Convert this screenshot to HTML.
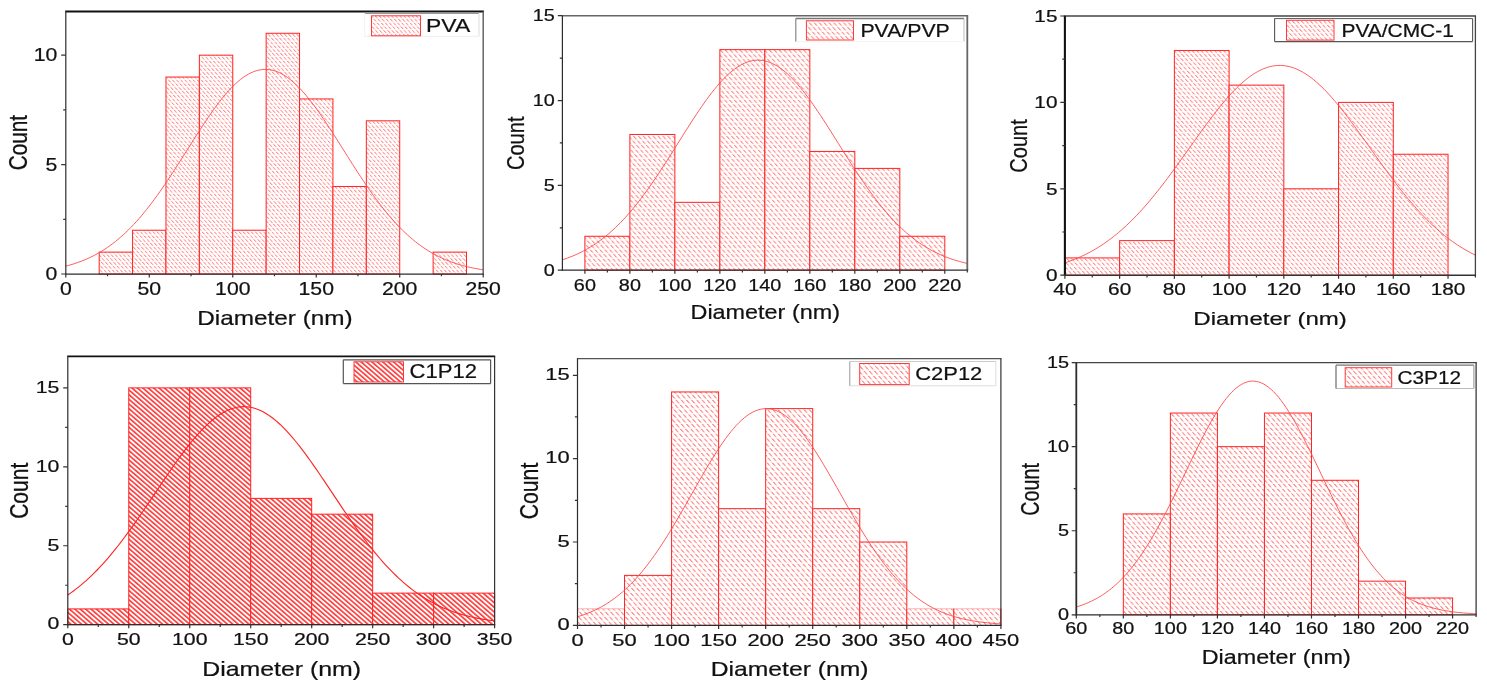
<!DOCTYPE html>
<html lang="en"><head><meta charset="utf-8"><title>Fiber diameter histograms</title>
<style>
html,body{margin:0;padding:0;background:#fff;}
body{width:1487px;height:687px;overflow:hidden;}
svg{display:block;filter:blur(0.45px);}
body{will-change:transform;transform:translateZ(0);}
text{font-family:"Liberation Sans",Arial,Helvetica,sans-serif;fill:#111;stroke:#111;stroke-width:0.22px;}
</style></head><body>
<svg width="1487" height="687" viewBox="0 0 1487 687">
<rect width="1487" height="687" fill="#ffffff"/>
<defs>
<pattern id="h1" patternUnits="userSpaceOnUse" width="4.1" height="3.8" patternTransform="skewX(41)"><rect width="4.1" height="3.8" fill="#ffffff"/><rect x="0" y="0" width="1.2" height="3.8" fill="#ffe8e8"/><rect x="0" y="0" width="1.2" height="2.43" fill="#ff8c8c"/></pattern>
<pattern id="h2" patternUnits="userSpaceOnUse" width="4.9" height="4.54" patternTransform="skewX(41)"><rect width="4.9" height="4.54" fill="#ffffff"/><rect x="0" y="0" width="1.43" height="4.54" fill="#ffe8e8"/><rect x="0" y="0" width="1.43" height="2.91" fill="#ff8c8c"/></pattern>
<pattern id="h3" patternUnits="userSpaceOnUse" width="4.5" height="4.17" patternTransform="skewX(41)"><rect width="4.5" height="4.17" fill="#ffffff"/><rect x="0" y="0" width="1.32" height="4.17" fill="#ffe8e8"/><rect x="0" y="0" width="1.32" height="2.67" fill="#ff8c8c"/></pattern>
<pattern id="h4" patternUnits="userSpaceOnUse" width="3.53" height="8" patternTransform="rotate(-49.2)"><rect width="3.53" height="8" fill="#ffffff"/><rect x="0" y="0" width="1.6" height="8" fill="#ff3535"/></pattern>
<pattern id="h5" patternUnits="userSpaceOnUse" width="5.2" height="4.82" patternTransform="skewX(41)"><rect width="5.2" height="4.82" fill="#ffffff"/><rect x="0" y="0" width="1.52" height="4.82" fill="#ffe8e8"/><rect x="0" y="0" width="1.52" height="3.08" fill="#ff8c8c"/></pattern>
<pattern id="h6" patternUnits="userSpaceOnUse" width="5.1" height="4.7" patternTransform="skewX(41)"><rect width="5.1" height="4.7" fill="#ffffff"/><rect x="0" y="0" width="1.5" height="4.7" fill="#ffe8e8"/><rect x="0" y="0" width="1.5" height="3.01" fill="#ff8c8c"/></pattern>
</defs>
<g id="plot1">
<rect x="99.19" y="252.12" width="33.39" height="21.88" fill="url(#h1)" stroke="#ff2222" stroke-width="1.0"/>
<rect x="132.58" y="230.23" width="33.39" height="43.77" fill="url(#h1)" stroke="#ff2222" stroke-width="1.0"/>
<rect x="165.98" y="77.05" width="33.39" height="196.95" fill="url(#h1)" stroke="#ff2222" stroke-width="1.0"/>
<rect x="199.37" y="55.17" width="33.39" height="218.83" fill="url(#h1)" stroke="#ff2222" stroke-width="1.0"/>
<rect x="232.76" y="230.23" width="33.39" height="43.77" fill="url(#h1)" stroke="#ff2222" stroke-width="1.0"/>
<rect x="266.15" y="33.28" width="33.39" height="240.72" fill="url(#h1)" stroke="#ff2222" stroke-width="1.0"/>
<rect x="299.54" y="98.93" width="33.39" height="175.07" fill="url(#h1)" stroke="#ff2222" stroke-width="1.0"/>
<rect x="332.94" y="186.47" width="33.39" height="87.53" fill="url(#h1)" stroke="#ff2222" stroke-width="1.0"/>
<rect x="366.33" y="120.82" width="33.39" height="153.18" fill="url(#h1)" stroke="#ff2222" stroke-width="1.0"/>
<rect x="433.11" y="252.12" width="33.39" height="21.88" fill="url(#h1)" stroke="#ff2222" stroke-width="1.0"/>
<polyline points="65.8,266.15 68.41,265.45 71.02,264.71 73.63,263.91 76.23,263.05 78.84,262.14 81.45,261.16 84.06,260.12 86.67,259.01 89.28,257.83 91.89,256.58 94.5,255.25 97.1,253.84 99.71,252.35 102.32,250.77 104.93,249.11 107.54,247.36 110.15,245.52 112.76,243.58 115.37,241.55 117.97,239.42 120.58,237.2 123.19,234.87 125.8,232.44 128.41,229.92 131.02,227.29 133.63,224.55 136.24,221.72 138.84,218.79 141.45,215.75 144.06,212.62 146.67,209.4 149.28,206.07 151.89,202.66 154.5,199.16 157.11,195.57 159.71,191.91 162.32,188.17 164.93,184.36 167.54,180.48 170.15,176.54 172.76,172.56 175.37,168.52 177.98,164.45 180.58,160.35 183.19,156.22 185.8,152.09 188.41,147.94 191.02,143.8 193.63,139.68 196.24,135.58 198.85,131.51 201.45,127.49 204.06,123.52 206.67,119.61 209.28,115.79 211.89,112.04 214.5,108.39 217.11,104.85 219.72,101.43 222.32,98.13 224.93,94.97 227.54,91.96 230.15,89.1 232.76,86.4 235.37,83.88 237.98,81.54 240.59,79.39 243.19,77.43 245.8,75.67 248.41,74.12 251.02,72.79 253.63,71.67 256.24,70.77 258.85,70.09 261.46,69.64 264.06,69.42 266.67,69.42 269.28,69.65 271.89,70.11 274.5,70.8 277.11,71.71 279.72,72.84 282.33,74.18 284.94,75.74 287.54,77.5 290.15,79.47 292.76,81.63 295.37,83.98 297.98,86.51 300.59,89.21 303.2,92.07 305.81,95.09 308.41,98.26 311.02,101.56 313.63,104.99 316.24,108.54 318.85,112.19 321.46,115.94 324.07,119.77 326.68,123.68 329.28,127.65 331.89,131.67 334.5,135.74 337.11,139.84 339.72,143.97 342.33,148.11 344.94,152.25 347.55,156.39 350.15,160.51 352.76,164.61 355.37,168.68 357.98,172.72 360.59,176.7 363.2,180.64 365.81,184.51 368.42,188.32 371.02,192.06 373.63,195.72 376.24,199.3 378.85,202.8 381.46,206.21 384.07,209.53 386.68,212.75 389.29,215.88 391.89,218.91 394.5,221.84 397.11,224.67 399.72,227.39 402.33,230.02 404.94,232.54 407.55,234.97 410.16,237.29 412.76,239.51 415.37,241.63 417.98,243.66 420.59,245.59 423.2,247.43 425.81,249.18 428.42,250.84 431.02,252.41 433.63,253.89 436.24,255.3 438.85,256.63 441.46,257.88 444.07,259.05 446.68,260.16 449.29,261.2 451.89,262.17 454.5,263.09 457.11,263.94 459.72,264.74 462.33,265.48 464.94,266.17 467.55,266.82 470.16,267.41 472.76,267.97 475.37,268.48 477.98,268.96 480.59,269.4 483.2,269.81" fill="none" stroke="#ff4a4a" stroke-width="0.9"/>
<line x1="65.2" y1="11.4" x2="483.95" y2="11.4" stroke="#111" stroke-width="2.0"/>
<line x1="483.2" y1="11.4" x2="483.2" y2="274" stroke="#666" stroke-width="1.5"/>
<line x1="65.8" y1="11.4" x2="65.8" y2="274.62" stroke="#2c2c2c" stroke-width="1.2"/>
<line x1="65.2" y1="274" x2="483.95" y2="274" stroke="#2c2c2c" stroke-width="1.25"/>
<path d="M65.8 274v3.6M149.28 274v3.6M232.76 274v3.6M316.24 274v3.6M399.72 274v3.6M483.2 274v3.6M107.54 274v2.2M191.02 274v2.2M274.5 274v2.2M357.98 274v2.2M441.46 274v2.2M65.8 274h-4.6M65.8 164.58h-4.6M65.8 55.17h-4.6M65.8 219.29h-2.6M65.8 109.87h-2.6" stroke="#333" stroke-width="1.2" fill="none"/>
<text transform="translate(65.8,295.2) scale(1.205,1)" text-anchor="middle" font-size="17.6">0</text>
<text transform="translate(149.28,295.2) scale(1.205,1)" text-anchor="middle" font-size="17.6">50</text>
<text transform="translate(232.76,295.2) scale(1.205,1)" text-anchor="middle" font-size="17.6">100</text>
<text transform="translate(316.24,295.2) scale(1.205,1)" text-anchor="middle" font-size="17.6">150</text>
<text transform="translate(399.72,295.2) scale(1.205,1)" text-anchor="middle" font-size="17.6">200</text>
<text transform="translate(483.2,295.2) scale(1.205,1)" text-anchor="middle" font-size="17.6">250</text>
<text transform="translate(57.4,280.3) scale(1.205,1)" text-anchor="end" font-size="17.6">0</text>
<text transform="translate(57.4,170.88) scale(1.205,1)" text-anchor="end" font-size="17.6">5</text>
<text transform="translate(57.4,61.47) scale(1.205,1)" text-anchor="end" font-size="17.6">10</text>
<text x="197.2" y="324.9" font-size="20.4" textLength="155.5" lengthAdjust="spacingAndGlyphs">Diameter (nm)</text>
<text transform="translate(26.6,142.6) scale(1.22,1) rotate(-90)" text-anchor="middle" font-size="20.8">Count</text>
<rect x="364.7" y="13.2" width="114.3" height="23.1" fill="#fff"/>
<line x1="364.7" y1="13.2" x2="479" y2="13.2" stroke="#999" stroke-width="1.4"/>
<line x1="479" y1="13.2" x2="479" y2="36.3" stroke="#ddd" stroke-width="1"/>
<line x1="364.7" y1="36.3" x2="479" y2="36.3" stroke="#eee" stroke-width="1"/>
<line x1="364.7" y1="13.2" x2="364.7" y2="36.3" stroke="#f2f2f2" stroke-width="1"/>
<rect x="371.5" y="15.8" width="49" height="20" fill="url(#h1)" stroke="#ff3a3a" stroke-width="1.0"/>
<text x="426.1" y="32" font-size="18.4" textLength="44.1" lengthAdjust="spacingAndGlyphs">PVA</text>
</g>
<g id="plot2">
<rect x="584.89" y="236.27" width="44.99" height="33.93" fill="url(#h2)" stroke="#ff2222" stroke-width="1.0"/>
<rect x="629.88" y="134.47" width="44.99" height="135.73" fill="url(#h2)" stroke="#ff2222" stroke-width="1.0"/>
<rect x="674.87" y="202.33" width="44.99" height="67.87" fill="url(#h2)" stroke="#ff2222" stroke-width="1.0"/>
<rect x="719.86" y="49.63" width="44.99" height="220.57" fill="url(#h2)" stroke="#ff2222" stroke-width="1.0"/>
<rect x="764.85" y="49.63" width="44.99" height="220.57" fill="url(#h2)" stroke="#ff2222" stroke-width="1.0"/>
<rect x="809.84" y="151.43" width="44.99" height="118.77" fill="url(#h2)" stroke="#ff2222" stroke-width="1.0"/>
<rect x="854.83" y="168.4" width="44.99" height="101.8" fill="url(#h2)" stroke="#ff2222" stroke-width="1.0"/>
<rect x="899.82" y="236.27" width="44.99" height="33.93" fill="url(#h2)" stroke="#ff2222" stroke-width="1.0"/>
<polyline points="562.4,259.77 564.93,258.94 567.46,258.05 569.99,257.1 572.52,256.09 575.05,255.02 577.58,253.88 580.11,252.68 582.64,251.41 585.18,250.06 587.71,248.64 590.24,247.14 592.77,245.57 595.3,243.91 597.83,242.17 600.36,240.35 602.89,238.43 605.42,236.43 607.95,234.34 610.48,232.16 613.01,229.88 615.54,227.52 618.07,225.05 620.6,222.5 623.13,219.85 625.67,217.1 628.2,214.27 630.73,211.34 633.26,208.32 635.79,205.21 638.32,202.01 640.85,198.72 643.38,195.36 645.91,191.91 648.44,188.39 650.97,184.79 653.5,181.13 656.03,177.4 658.56,173.61 661.09,169.77 663.62,165.88 666.16,161.95 668.69,157.98 671.22,153.99 673.75,149.97 676.28,145.94 678.81,141.9 681.34,137.87 683.87,133.84 686.4,129.84 688.93,125.86 691.46,121.92 693.99,118.02 696.52,114.18 699.05,110.4 701.58,106.69 704.12,103.06 706.65,99.53 709.18,96.1 711.71,92.77 714.24,89.57 716.77,86.49 719.3,83.54 721.83,80.74 724.36,78.09 726.89,75.6 729.42,73.27 731.95,71.12 734.48,69.14 737.01,67.35 739.54,65.75 742.07,64.34 744.61,63.13 747.14,62.12 749.67,61.32 752.2,60.73 754.73,60.34 757.26,60.16 759.79,60.2 762.32,60.45 764.85,60.9 767.38,61.57 769.91,62.44 772.44,63.51 774.97,64.79 777.5,66.26 780.03,67.93 782.56,69.78 785.1,71.82 787.63,74.03 790.16,76.41 792.69,78.96 795.22,81.66 797.75,84.51 800.28,87.5 802.81,90.62 805.34,93.87 807.87,97.23 810.4,100.7 812.93,104.26 815.46,107.92 817.99,111.65 820.52,115.45 823.05,119.31 825.59,123.23 828.12,127.18 830.65,131.17 833.18,135.18 835.71,139.21 838.24,143.25 840.77,147.28 843.3,151.31 845.83,155.32 848.36,159.31 850.89,163.26 853.42,167.18 855.95,171.05 858.48,174.88 861.01,178.65 863.54,182.35 866.08,186 868.61,189.57 871.14,193.07 873.67,196.49 876.2,199.83 878.73,203.08 881.26,206.25 883.79,209.33 886.32,212.32 888.85,215.22 891.38,218.03 893.91,220.74 896.44,223.36 898.97,225.88 901.5,228.31 904.03,230.65 906.56,232.9 909.1,235.05 911.63,237.11 914.16,239.08 916.69,240.96 919.22,242.76 921.75,244.47 924.28,246.1 926.81,247.65 929.34,249.12 931.87,250.52 934.4,251.84 936.93,253.09 939.46,254.27 941.99,255.38 944.52,256.43 947.05,257.42 949.59,258.35 952.12,259.22 954.65,260.04 957.18,260.81 959.71,261.53 962.24,262.2 964.77,262.82 967.3,263.41" fill="none" stroke="#ff4a4a" stroke-width="0.9"/>
<line x1="561.8" y1="15.7" x2="968.2" y2="15.7" stroke="#666" stroke-width="1.5"/>
<line x1="967.3" y1="15.7" x2="967.3" y2="270.2" stroke="#666" stroke-width="1.8"/>
<line x1="562.4" y1="15.7" x2="562.4" y2="270.82" stroke="#2c2c2c" stroke-width="1.2"/>
<line x1="561.8" y1="270.2" x2="968.2" y2="270.2" stroke="#2c2c2c" stroke-width="1.25"/>
<path d="M584.89 270.2v3.6M629.88 270.2v3.6M674.87 270.2v3.6M719.86 270.2v3.6M764.85 270.2v3.6M809.84 270.2v3.6M854.83 270.2v3.6M899.82 270.2v3.6M944.81 270.2v3.6M607.39 270.2v2.2M652.38 270.2v2.2M697.37 270.2v2.2M742.36 270.2v2.2M787.34 270.2v2.2M832.33 270.2v2.2M877.32 270.2v2.2M922.31 270.2v2.2M967.3 270.2v2.2M562.4 270.2h-4.6M562.4 185.37h-4.6M562.4 100.53h-4.6M562.4 15.7h-4.6M562.4 227.78h-2.6M562.4 142.95h-2.6M562.4 58.12h-2.6" stroke="#333" stroke-width="1.2" fill="none"/>
<text transform="translate(584.89,290.9) scale(1.24,1)" text-anchor="middle" font-size="16.0">60</text>
<text transform="translate(629.88,290.9) scale(1.24,1)" text-anchor="middle" font-size="16.0">80</text>
<text transform="translate(674.87,290.9) scale(1.24,1)" text-anchor="middle" font-size="16.0">100</text>
<text transform="translate(719.86,290.9) scale(1.24,1)" text-anchor="middle" font-size="16.0">120</text>
<text transform="translate(764.85,290.9) scale(1.24,1)" text-anchor="middle" font-size="16.0">140</text>
<text transform="translate(809.84,290.9) scale(1.24,1)" text-anchor="middle" font-size="16.0">160</text>
<text transform="translate(854.83,290.9) scale(1.24,1)" text-anchor="middle" font-size="16.0">180</text>
<text transform="translate(899.82,290.9) scale(1.24,1)" text-anchor="middle" font-size="16.0">200</text>
<text transform="translate(944.81,290.9) scale(1.24,1)" text-anchor="middle" font-size="16.0">220</text>
<text transform="translate(554.8,275.93) scale(1.24,1)" text-anchor="end" font-size="16.0">0</text>
<text transform="translate(554.8,191.09) scale(1.24,1)" text-anchor="end" font-size="16.0">5</text>
<text transform="translate(554.8,106.26) scale(1.24,1)" text-anchor="end" font-size="16.0">10</text>
<text transform="translate(554.8,21.43) scale(1.24,1)" text-anchor="end" font-size="16.0">15</text>
<text x="690.5" y="319.3" font-size="20.1" textLength="149.5" lengthAdjust="spacingAndGlyphs">Diameter (nm)</text>
<text transform="translate(524.4,143.3) scale(1.15,1) rotate(-90)" text-anchor="middle" font-size="20.1">Count</text>
<rect x="795.8" y="18.5" width="168.2" height="23.1" fill="#fff"/>
<line x1="795.8" y1="18.5" x2="964" y2="18.5" stroke="#777" stroke-width="1.3"/>
<line x1="964" y1="18.5" x2="964" y2="41.6" stroke="#bbb" stroke-width="1"/>
<line x1="795.8" y1="41.6" x2="964" y2="41.6" stroke="#f4f4f4" stroke-width="1"/>
<line x1="795.8" y1="18.5" x2="795.8" y2="41.6" stroke="#888" stroke-width="1.2"/>
<rect x="806.4" y="20.8" width="47.1" height="19.2" fill="url(#h2)" stroke="#ff3a3a" stroke-width="1.0"/>
<text x="860.4" y="36.9" font-size="18.0" textLength="89.4" lengthAdjust="spacingAndGlyphs">PVA/PVP</text>
</g>
<g id="plot3">
<rect x="1064.9" y="257.92" width="54.73" height="17.28" fill="url(#h3)" stroke="#ff2222" stroke-width="1.0"/>
<rect x="1119.63" y="240.64" width="54.73" height="34.56" fill="url(#h3)" stroke="#ff2222" stroke-width="1.0"/>
<rect x="1174.37" y="50.56" width="54.73" height="224.64" fill="url(#h3)" stroke="#ff2222" stroke-width="1.0"/>
<rect x="1229.1" y="85.12" width="54.73" height="190.08" fill="url(#h3)" stroke="#ff2222" stroke-width="1.0"/>
<rect x="1283.83" y="188.8" width="54.73" height="86.4" fill="url(#h3)" stroke="#ff2222" stroke-width="1.0"/>
<rect x="1338.57" y="102.4" width="54.73" height="172.8" fill="url(#h3)" stroke="#ff2222" stroke-width="1.0"/>
<rect x="1393.3" y="154.24" width="54.73" height="120.96" fill="url(#h3)" stroke="#ff2222" stroke-width="1.0"/>
<polyline points="1064.9,262.81 1067.47,261.95 1070.03,261.04 1072.6,260.08 1075.16,259.07 1077.73,258.01 1080.29,256.89 1082.86,255.71 1085.43,254.47 1087.99,253.17 1090.56,251.81 1093.12,250.39 1095.69,248.9 1098.25,247.34 1100.82,245.72 1103.38,244.02 1105.95,242.26 1108.52,240.42 1111.08,238.51 1113.65,236.53 1116.21,234.47 1118.78,232.34 1121.34,230.13 1123.91,227.85 1126.48,225.49 1129.04,223.06 1131.61,220.55 1134.17,217.96 1136.74,215.31 1139.3,212.58 1141.87,209.77 1144.43,206.9 1147,203.96 1149.57,200.95 1152.13,197.88 1154.7,194.75 1157.26,191.55 1159.83,188.3 1162.39,185 1164.96,181.65 1167.53,178.25 1170.09,174.8 1172.66,171.32 1175.22,167.81 1177.79,164.26 1180.35,160.69 1182.92,157.1 1185.48,153.5 1188.05,149.89 1190.62,146.28 1193.18,142.66 1195.75,139.06 1198.31,135.47 1200.88,131.91 1203.44,128.37 1206.01,124.86 1208.58,121.4 1211.14,117.98 1213.71,114.61 1216.27,111.31 1218.84,108.07 1221.4,104.91 1223.97,101.83 1226.53,98.83 1229.1,95.93 1231.67,93.12 1234.23,90.42 1236.8,87.83 1239.36,85.36 1241.93,83.01 1244.49,80.79 1247.06,78.71 1249.62,76.76 1252.19,74.95 1254.76,73.29 1257.32,71.78 1259.89,70.42 1262.45,69.22 1265.02,68.19 1267.58,67.31 1270.15,66.6 1272.72,66.05 1275.28,65.67 1277.85,65.47 1280.41,65.43 1282.98,65.56 1285.54,65.86 1288.11,66.32 1290.68,66.96 1293.24,67.76 1295.81,68.72 1298.37,69.84 1300.94,71.13 1303.5,72.57 1306.07,74.16 1308.63,75.9 1311.2,77.78 1313.77,79.8 1316.33,81.96 1318.9,84.25 1321.46,86.67 1324.03,89.2 1326.59,91.85 1329.16,94.6 1331.73,97.46 1334.29,100.42 1336.86,103.46 1339.42,106.59 1341.99,109.79 1344.55,113.06 1347.12,116.4 1349.68,119.79 1352.25,123.24 1354.82,126.73 1357.38,130.25 1359.95,133.81 1362.51,137.38 1365.08,140.98 1367.64,144.59 1370.21,148.2 1372.78,151.82 1375.34,155.42 1377.91,159.02 1380.47,162.6 1383.04,166.16 1385.6,169.68 1388.17,173.18 1390.73,176.64 1393.3,180.06 1395.87,183.44 1398.43,186.77 1401,190.04 1403.56,193.26 1406.13,196.43 1408.69,199.53 1411.26,202.56 1413.83,205.54 1416.39,208.44 1418.96,211.28 1421.52,214.04 1424.09,216.73 1426.65,219.35 1429.22,221.89 1431.78,224.36 1434.35,226.76 1436.92,229.08 1439.48,231.32 1442.05,233.49 1444.61,235.58 1447.18,237.6 1449.74,239.54 1452.31,241.41 1454.88,243.21 1457.44,244.94 1460.01,246.59 1462.57,248.18 1465.14,249.7 1467.7,251.16 1470.27,252.55 1472.83,253.87 1475.4,255.14" fill="none" stroke="#ff4a4a" stroke-width="0.9"/>
<line x1="1063.85" y1="16" x2="1476.05" y2="16" stroke="#444" stroke-width="1.6"/>
<line x1="1475.4" y1="16" x2="1475.4" y2="275.2" stroke="#444" stroke-width="1.3"/>
<line x1="1064.9" y1="16" x2="1064.9" y2="275.9" stroke="#111" stroke-width="2.1"/>
<line x1="1063.85" y1="275.2" x2="1476.05" y2="275.2" stroke="#333" stroke-width="1.4"/>
<path d="M1064.9 275.2v3.6M1119.63 275.2v3.6M1174.37 275.2v3.6M1229.1 275.2v3.6M1283.83 275.2v3.6M1338.57 275.2v3.6M1393.3 275.2v3.6M1448.03 275.2v3.6M1092.27 275.2v2.2M1147 275.2v2.2M1201.73 275.2v2.2M1256.47 275.2v2.2M1311.2 275.2v2.2M1365.93 275.2v2.2M1420.67 275.2v2.2M1475.4 275.2v2.2M1064.9 275.2h-4.6M1064.9 188.8h-4.6M1064.9 102.4h-4.6M1064.9 16h-4.6M1064.9 232h-2.6M1064.9 145.6h-2.6M1064.9 59.2h-2.6" stroke="#333" stroke-width="1.2" fill="none"/>
<text transform="translate(1064.9,294.9) scale(1.3,1)" text-anchor="middle" font-size="16.0">40</text>
<text transform="translate(1119.63,294.9) scale(1.3,1)" text-anchor="middle" font-size="16.0">60</text>
<text transform="translate(1174.37,294.9) scale(1.3,1)" text-anchor="middle" font-size="16.0">80</text>
<text transform="translate(1229.1,294.9) scale(1.3,1)" text-anchor="middle" font-size="16.0">100</text>
<text transform="translate(1283.83,294.9) scale(1.3,1)" text-anchor="middle" font-size="16.0">120</text>
<text transform="translate(1338.57,294.9) scale(1.3,1)" text-anchor="middle" font-size="16.0">140</text>
<text transform="translate(1393.3,294.9) scale(1.3,1)" text-anchor="middle" font-size="16.0">160</text>
<text transform="translate(1448.03,294.9) scale(1.3,1)" text-anchor="middle" font-size="16.0">180</text>
<text transform="translate(1057.5,280.93) scale(1.3,1)" text-anchor="end" font-size="16.0">0</text>
<text transform="translate(1057.5,194.53) scale(1.3,1)" text-anchor="end" font-size="16.0">5</text>
<text transform="translate(1057.5,108.13) scale(1.3,1)" text-anchor="end" font-size="16.0">10</text>
<text transform="translate(1057.5,21.73) scale(1.3,1)" text-anchor="end" font-size="16.0">15</text>
<text x="1193.3" y="325.2" font-size="18.7" textLength="153.6" lengthAdjust="spacingAndGlyphs">Diameter (nm)</text>
<text transform="translate(1027,146) scale(1.22,1) rotate(-90)" text-anchor="middle" font-size="20.05">Count</text>
<rect x="1274.6" y="18.6" width="198" height="23" fill="#fff"/>
<line x1="1274.6" y1="18.6" x2="1472.6" y2="18.6" stroke="#555" stroke-width="1"/>
<line x1="1472.6" y1="18.6" x2="1472.6" y2="41.6" stroke="#555" stroke-width="1.1"/>
<line x1="1274.6" y1="41.6" x2="1472.6" y2="41.6" stroke="#555" stroke-width="1.1"/>
<line x1="1274.6" y1="18.6" x2="1274.6" y2="41.6" stroke="#555" stroke-width="1.1"/>
<rect x="1286.5" y="20.3" width="47.5" height="19.8" fill="url(#h3)" stroke="#ff3a3a" stroke-width="1.0"/>
<text x="1341.5" y="36.6" font-size="18.2" textLength="112.3" lengthAdjust="spacingAndGlyphs">PVA/CMC-1</text>
</g>
<g id="plot4">
<rect x="67.8" y="608.91" width="60.97" height="15.79" fill="url(#h4)" stroke="#ff2222" stroke-width="1.0"/>
<rect x="128.77" y="387.88" width="60.97" height="236.82" fill="url(#h4)" stroke="#ff2222" stroke-width="1.0"/>
<rect x="189.74" y="387.88" width="60.97" height="236.82" fill="url(#h4)" stroke="#ff2222" stroke-width="1.0"/>
<rect x="250.71" y="498.39" width="60.97" height="126.31" fill="url(#h4)" stroke="#ff2222" stroke-width="1.0"/>
<rect x="311.69" y="514.18" width="60.97" height="110.52" fill="url(#h4)" stroke="#ff2222" stroke-width="1.0"/>
<rect x="372.66" y="593.12" width="60.97" height="31.58" fill="url(#h4)" stroke="#ff2222" stroke-width="1.0"/>
<rect x="433.63" y="593.12" width="60.97" height="31.58" fill="url(#h4)" stroke="#ff2222" stroke-width="1.0"/>
<polyline points="67.8,594.95 70.47,593.11 73.13,591.19 75.8,589.18 78.47,587.09 81.14,584.92 83.81,582.65 86.47,580.3 89.14,577.86 91.81,575.33 94.47,572.71 97.14,570 99.81,567.21 102.48,564.32 105.15,561.35 107.81,558.3 110.48,555.16 113.15,551.93 115.81,548.63 118.48,545.26 121.15,541.8 123.82,538.28 126.48,534.69 129.15,531.04 131.82,527.32 134.49,523.56 137.16,519.74 139.82,515.88 142.49,511.98 145.16,508.05 147.82,504.09 150.49,500.11 153.16,496.11 155.83,492.11 158.5,488.11 161.16,484.12 163.83,480.14 166.5,476.19 169.17,472.27 171.83,468.39 174.5,464.56 177.17,460.78 179.84,457.07 182.5,453.43 185.17,449.87 187.84,446.4 190.5,443.03 193.17,439.76 195.84,436.61 198.51,433.58 201.18,430.68 203.84,427.91 206.51,425.29 209.18,422.81 211.85,420.5 214.51,418.34 217.18,416.35 219.85,414.54 222.51,412.91 225.18,411.45 227.85,410.19 230.52,409.11 233.19,408.23 235.85,407.54 238.52,407.05 241.19,406.76 243.86,406.66 246.52,406.77 249.19,407.08 251.86,407.58 254.53,408.28 257.19,409.18 259.86,410.27 262.53,411.55 265.19,413.01 267.86,414.66 270.53,416.48 273.2,418.48 275.87,420.65 278.53,422.98 281.2,425.46 283.87,428.09 286.54,430.87 289.2,433.78 291.87,436.82 294.54,439.98 297.21,443.26 299.87,446.63 302.54,450.11 305.21,453.68 307.88,457.32 310.54,461.04 313.21,464.82 315.88,468.66 318.55,472.54 321.21,476.46 323.88,480.42 326.55,484.39 329.22,488.39 331.88,492.39 334.55,496.39 337.22,500.38 339.89,504.36 342.55,508.32 345.22,512.25 347.89,516.14 350.56,520 353.22,523.82 355.89,527.58 358.56,531.29 361.23,534.94 363.89,538.52 366.56,542.04 369.23,545.49 371.9,548.86 374.56,552.16 377.23,555.37 379.9,558.51 382.57,561.56 385.23,564.52 387.9,567.4 390.57,570.19 393.24,572.89 395.9,575.51 398.57,578.03 401.24,580.46 403.91,582.81 406.57,585.07 409.24,587.24 411.91,589.32 414.58,591.32 417.24,593.24 419.91,595.07 422.58,596.82 425.25,598.49 427.91,600.09 430.58,601.6 433.25,603.05 435.92,604.42 438.58,605.72 441.25,606.96 443.92,608.13 446.59,609.24 449.25,610.28 451.92,611.27 454.59,612.2 457.26,613.08 459.92,613.9 462.59,614.68 465.26,615.41 467.93,616.09 470.59,616.74 473.26,617.33 475.93,617.9 478.6,618.42 481.26,618.91 483.93,619.36 486.6,619.79 489.27,620.18 491.93,620.55 494.6,620.89" fill="none" stroke="#ff2222" stroke-width="1.1"/>
<line x1="67.2" y1="356.3" x2="495.2" y2="356.3" stroke="#111" stroke-width="1.8"/>
<line x1="494.6" y1="356.3" x2="494.6" y2="624.7" stroke="#333" stroke-width="1.2"/>
<line x1="67.8" y1="356.3" x2="67.8" y2="625.33" stroke="#2c2c2c" stroke-width="1.2"/>
<line x1="67.2" y1="624.7" x2="495.2" y2="624.7" stroke="#2c2c2c" stroke-width="1.25"/>
<path d="M67.8 624.7v3.6M128.77 624.7v3.6M189.74 624.7v3.6M250.71 624.7v3.6M311.69 624.7v3.6M372.66 624.7v3.6M433.63 624.7v3.6M494.6 624.7v3.6M98.29 624.7v2.2M159.26 624.7v2.2M220.23 624.7v2.2M281.2 624.7v2.2M342.17 624.7v2.2M403.14 624.7v2.2M464.11 624.7v2.2M67.8 624.7h-4.6M67.8 545.76h-4.6M67.8 466.82h-4.6M67.8 387.88h-4.6M67.8 585.23h-2.6M67.8 506.29h-2.6M67.8 427.35h-2.6" stroke="#333" stroke-width="1.2" fill="none"/>
<text transform="translate(67.8,645.4) scale(1.26,1)" text-anchor="middle" font-size="16.9">0</text>
<text transform="translate(128.77,645.4) scale(1.26,1)" text-anchor="middle" font-size="16.9">50</text>
<text transform="translate(189.74,645.4) scale(1.26,1)" text-anchor="middle" font-size="16.9">100</text>
<text transform="translate(250.71,645.4) scale(1.26,1)" text-anchor="middle" font-size="16.9">150</text>
<text transform="translate(311.69,645.4) scale(1.26,1)" text-anchor="middle" font-size="16.9">200</text>
<text transform="translate(372.66,645.4) scale(1.26,1)" text-anchor="middle" font-size="16.9">250</text>
<text transform="translate(433.63,645.4) scale(1.26,1)" text-anchor="middle" font-size="16.9">300</text>
<text transform="translate(494.6,645.4) scale(1.26,1)" text-anchor="middle" font-size="16.9">350</text>
<text transform="translate(59.4,629.45) scale(1.26,1)" text-anchor="end" font-size="16.9">0</text>
<text transform="translate(59.4,550.51) scale(1.26,1)" text-anchor="end" font-size="16.9">5</text>
<text transform="translate(59.4,471.57) scale(1.26,1)" text-anchor="end" font-size="16.9">10</text>
<text transform="translate(59.4,392.63) scale(1.26,1)" text-anchor="end" font-size="16.9">15</text>
<text x="202.2" y="676.2" font-size="19.8" textLength="158.9" lengthAdjust="spacingAndGlyphs">Diameter (nm)</text>
<text transform="translate(28.3,490.8) scale(1.2,1) rotate(-90)" text-anchor="middle" font-size="21">Count</text>
<rect x="343.3" y="359.8" width="147.3" height="23.8" fill="#fff"/>
<line x1="343.3" y1="359.8" x2="490.6" y2="359.8" stroke="#555" stroke-width="1.2"/>
<line x1="490.6" y1="359.8" x2="490.6" y2="383.6" stroke="#555" stroke-width="1.2"/>
<line x1="343.3" y1="383.6" x2="490.6" y2="383.6" stroke="#555" stroke-width="1.2"/>
<line x1="343.3" y1="359.8" x2="343.3" y2="383.6" stroke="#555" stroke-width="1.2"/>
<rect x="354" y="361.8" width="49.5" height="20.2" fill="url(#h4)" stroke="#ff3a3a" stroke-width="1.0"/>
<text x="409.6" y="378.1" font-size="20.4" textLength="67.3" lengthAdjust="spacingAndGlyphs">C1P12</text>
</g>
<g id="plot5">
<rect x="577.5" y="608.73" width="47.04" height="16.67" fill="url(#h5)"/>
<path d="M577.5 608.73H624.54" stroke="#ffb4b4" stroke-width="1.2" fill="none"/>
<path d="M577.5 625.4V608.73M624.54 608.73V625.4" stroke="#ff2222" stroke-width="1.0" fill="none"/>
<rect x="624.54" y="575.38" width="47.04" height="50.02" fill="url(#h5)" stroke="#ff2222" stroke-width="1.0"/>
<rect x="671.59" y="391.95" width="47.04" height="233.45" fill="url(#h5)" stroke="#ff2222" stroke-width="1.0"/>
<rect x="718.63" y="508.68" width="47.04" height="116.72" fill="url(#h5)" stroke="#ff2222" stroke-width="1.0"/>
<rect x="765.68" y="408.62" width="47.04" height="216.77" fill="url(#h5)" stroke="#ff2222" stroke-width="1.0"/>
<rect x="812.72" y="508.68" width="47.04" height="116.72" fill="url(#h5)" stroke="#ff2222" stroke-width="1.0"/>
<rect x="859.77" y="542.02" width="47.04" height="83.38" fill="url(#h5)" stroke="#ff2222" stroke-width="1.0"/>
<rect x="906.81" y="608.73" width="47.04" height="16.67" fill="url(#h5)"/>
<path d="M906.81 608.73H953.86" stroke="#ffb4b4" stroke-width="1.2" fill="none"/>
<path d="M906.81 625.4V608.73M953.86 608.73V625.4" stroke="#ff2222" stroke-width="1.0" fill="none"/>
<rect x="953.86" y="608.73" width="47.04" height="16.67" fill="url(#h5)"/>
<path d="M953.86 608.73H1000.9" stroke="#ffb4b4" stroke-width="1.2" fill="none"/>
<path d="M953.86 625.4V608.73M1000.9 608.73V625.4" stroke="#ff2222" stroke-width="1.0" fill="none"/>
<polyline points="577.5,616.74 580.15,615.93 582.79,615.06 585.44,614.11 588.09,613.1 590.73,612.02 593.38,610.85 596.02,609.61 598.67,608.28 601.32,606.86 603.96,605.35 606.61,603.74 609.25,602.04 611.9,600.23 614.55,598.32 617.19,596.29 619.84,594.16 622.49,591.92 625.13,589.55 627.78,587.07 630.42,584.47 633.07,581.75 635.72,578.91 638.36,575.94 641.01,572.85 643.66,569.64 646.3,566.31 648.95,562.86 651.6,559.29 654.24,555.61 656.89,551.81 659.53,547.91 662.18,543.9 664.83,539.79 667.47,535.59 670.12,531.3 672.76,526.94 675.41,522.5 678.06,518 680.7,513.44 683.35,508.84 686,504.2 688.64,499.53 691.29,494.86 693.93,490.18 696.58,485.51 699.23,480.86 701.87,476.24 704.52,471.68 707.17,467.17 709.81,462.74 712.46,458.4 715.11,454.16 717.75,450.03 720.4,446.03 723.04,442.17 725.69,438.47 728.34,434.93 730.98,431.58 733.63,428.41 736.27,425.44 738.92,422.69 741.57,420.16 744.21,417.86 746.86,415.8 749.51,413.99 752.15,412.43 754.8,411.14 757.44,410.11 760.09,409.34 762.74,408.85 765.38,408.64 768.03,408.69 770.68,409.03 773.32,409.63 775.97,410.51 778.62,411.65 781.26,413.06 783.91,414.72 786.55,416.64 789.2,418.8 791.85,421.2 794.49,423.83 797.14,426.67 799.78,429.72 802.43,432.97 805.08,436.41 807.72,440.02 810.37,443.79 813.02,447.7 815.66,451.76 818.31,455.94 820.96,460.22 823.6,464.6 826.25,469.07 828.89,473.6 831.54,478.19 834.19,482.82 836.83,487.48 839.48,492.15 842.12,496.83 844.77,501.5 847.42,506.16 850.06,510.78 852.71,515.37 855.36,519.9 858,524.38 860.65,528.79 863.3,533.12 865.94,537.37 868.59,541.54 871.23,545.6 873.88,549.57 876.53,553.43 879.17,557.18 881.82,560.81 884.46,564.33 887.11,567.73 889.76,571.01 892.4,574.17 895.05,577.21 897.7,580.12 900.34,582.91 902.99,585.58 905.63,588.13 908.28,590.56 910.93,592.88 913.57,595.08 916.22,597.16 918.87,599.14 921.51,601 924.16,602.77 926.81,604.43 929.45,606 932.1,607.47 934.74,608.85 937.39,610.14 940.04,611.35 942.68,612.48 945.33,613.54 947.98,614.52 950.62,615.43 953.27,616.28 955.91,617.07 958.56,617.8 961.21,618.47 963.85,619.09 966.5,619.67 969.14,620.19 971.79,620.68 974.44,621.13 977.08,621.53 979.73,621.91 982.38,622.25 985.02,622.56 987.67,622.85 990.32,623.1 992.96,623.34 995.61,623.55 998.25,623.75 1000.9,623.92" fill="none" stroke="#ff4a4a" stroke-width="0.9"/>
<line x1="576.9" y1="358.6" x2="1001.5" y2="358.6" stroke="#555" stroke-width="1.4"/>
<line x1="1000.9" y1="358.6" x2="1000.9" y2="625.4" stroke="#333" stroke-width="1.2"/>
<line x1="577.5" y1="358.6" x2="577.5" y2="626.02" stroke="#2c2c2c" stroke-width="1.2"/>
<line x1="576.9" y1="625.4" x2="1001.5" y2="625.4" stroke="#2c2c2c" stroke-width="1.25"/>
<path d="M577.5 625.4v3.6M624.54 625.4v3.6M671.59 625.4v3.6M718.63 625.4v3.6M765.68 625.4v3.6M812.72 625.4v3.6M859.77 625.4v3.6M906.81 625.4v3.6M953.86 625.4v3.6M1000.9 625.4v3.6M601.02 625.4v2.2M648.07 625.4v2.2M695.11 625.4v2.2M742.16 625.4v2.2M789.2 625.4v2.2M836.24 625.4v2.2M883.29 625.4v2.2M930.33 625.4v2.2M977.38 625.4v2.2M577.5 625.4h-4.6M577.5 542.02h-4.6M577.5 458.65h-4.6M577.5 375.28h-4.6M577.5 583.71h-2.6M577.5 500.34h-2.6M577.5 416.96h-2.6" stroke="#333" stroke-width="1.2" fill="none"/>
<text transform="translate(577.5,645.5) scale(1.29,1)" text-anchor="middle" font-size="17.0">0</text>
<text transform="translate(624.54,645.5) scale(1.29,1)" text-anchor="middle" font-size="17.0">50</text>
<text transform="translate(671.59,645.5) scale(1.29,1)" text-anchor="middle" font-size="17.0">100</text>
<text transform="translate(718.63,645.5) scale(1.29,1)" text-anchor="middle" font-size="17.0">150</text>
<text transform="translate(765.68,645.5) scale(1.29,1)" text-anchor="middle" font-size="17.0">200</text>
<text transform="translate(812.72,645.5) scale(1.29,1)" text-anchor="middle" font-size="17.0">250</text>
<text transform="translate(859.77,645.5) scale(1.29,1)" text-anchor="middle" font-size="17.0">300</text>
<text transform="translate(906.81,645.5) scale(1.29,1)" text-anchor="middle" font-size="17.0">350</text>
<text transform="translate(953.86,645.5) scale(1.29,1)" text-anchor="middle" font-size="17.0">400</text>
<text transform="translate(1000.9,645.5) scale(1.29,1)" text-anchor="middle" font-size="17.0">450</text>
<text transform="translate(569.7,630.19) scale(1.29,1)" text-anchor="end" font-size="17.0">0</text>
<text transform="translate(569.7,546.81) scale(1.29,1)" text-anchor="end" font-size="17.0">5</text>
<text transform="translate(569.7,463.44) scale(1.29,1)" text-anchor="end" font-size="17.0">10</text>
<text transform="translate(569.7,380.06) scale(1.29,1)" text-anchor="end" font-size="17.0">15</text>
<text x="710.7" y="676" font-size="19.8" textLength="157.8" lengthAdjust="spacingAndGlyphs">Diameter (nm)</text>
<text transform="translate(538,491) scale(1.18,1) rotate(-90)" text-anchor="middle" font-size="21.2">Count</text>
<rect x="849.8" y="361.5" width="146" height="24.3" fill="#fff"/>
<line x1="849.8" y1="361.5" x2="995.8" y2="361.5" stroke="#ccc" stroke-width="1"/>
<line x1="995.8" y1="361.5" x2="995.8" y2="385.8" stroke="#ddd" stroke-width="1"/>
<line x1="849.8" y1="385.8" x2="995.8" y2="385.8" stroke="#ddd" stroke-width="1"/>
<line x1="849.8" y1="361.5" x2="849.8" y2="385.8" stroke="#999" stroke-width="1"/>
<rect x="859.7" y="363.5" width="49.5" height="21.1" fill="url(#h5)" stroke="#ff3a3a" stroke-width="1.0"/>
<text x="915.3" y="379.5" font-size="19" textLength="67" lengthAdjust="spacingAndGlyphs">C2P12</text>
</g>
<g id="plot6">
<rect x="1123.34" y="513.92" width="47.04" height="100.88" fill="url(#h6)" stroke="#ff2222" stroke-width="1.0"/>
<rect x="1170.37" y="413.04" width="47.04" height="201.76" fill="url(#h6)" stroke="#ff2222" stroke-width="1.0"/>
<rect x="1217.41" y="446.67" width="47.04" height="168.13" fill="url(#h6)" stroke="#ff2222" stroke-width="1.0"/>
<rect x="1264.44" y="413.04" width="47.04" height="201.76" fill="url(#h6)" stroke="#ff2222" stroke-width="1.0"/>
<rect x="1311.48" y="480.29" width="47.04" height="134.51" fill="url(#h6)" stroke="#ff2222" stroke-width="1.0"/>
<rect x="1358.51" y="581.17" width="47.04" height="33.63" fill="url(#h6)" stroke="#ff2222" stroke-width="1.0"/>
<rect x="1405.55" y="597.99" width="47.04" height="16.81" fill="url(#h6)" stroke="#ff2222" stroke-width="1.0"/>
<polyline points="1076.3,607 1078.8,606.22 1081.3,605.37 1083.8,604.45 1086.29,603.46 1088.79,602.39 1091.29,601.24 1093.79,600.01 1096.29,598.68 1098.79,597.25 1101.29,595.73 1103.79,594.1 1106.28,592.37 1108.78,590.52 1111.28,588.55 1113.78,586.47 1116.28,584.26 1118.78,581.92 1121.28,579.45 1123.78,576.85 1126.27,574.11 1128.77,571.23 1131.27,568.22 1133.77,565.06 1136.27,561.76 1138.77,558.32 1141.27,554.74 1143.77,551.01 1146.26,547.15 1148.76,543.16 1151.26,539.03 1153.76,534.77 1156.26,530.38 1158.76,525.88 1161.26,521.26 1163.76,516.54 1166.25,511.72 1168.75,506.81 1171.25,501.82 1173.75,496.77 1176.25,491.65 1178.75,486.48 1181.25,481.29 1183.75,476.06 1186.24,470.84 1188.74,465.61 1191.24,460.41 1193.74,455.25 1196.24,450.13 1198.74,445.08 1201.24,440.12 1203.74,435.25 1206.23,430.5 1208.73,425.89 1211.23,421.42 1213.73,417.11 1216.23,412.98 1218.73,409.05 1221.23,405.33 1223.73,401.82 1226.22,398.56 1228.72,395.54 1231.22,392.78 1233.72,390.3 1236.22,388.09 1238.72,386.17 1241.22,384.56 1243.72,383.24 1246.21,382.24 1248.71,381.54 1251.21,381.17 1253.71,381.11 1256.21,381.37 1258.71,381.95 1261.21,382.84 1263.71,384.04 1266.2,385.55 1268.7,387.36 1271.2,389.46 1273.7,391.84 1276.2,394.5 1278.7,397.43 1281.2,400.6 1283.7,404.02 1286.19,407.67 1288.69,411.53 1291.19,415.58 1293.69,419.83 1296.19,424.24 1298.69,428.8 1301.19,433.51 1303.69,438.33 1306.18,443.26 1308.68,448.28 1311.18,453.37 1313.68,458.52 1316.18,463.71 1318.68,468.93 1321.18,474.16 1323.68,479.38 1326.17,484.59 1328.67,489.77 1331.17,494.91 1333.67,499.99 1336.17,505 1338.67,509.94 1341.17,514.8 1343.67,519.55 1346.16,524.21 1348.66,528.75 1351.16,533.18 1353.66,537.49 1356.16,541.66 1358.66,545.71 1361.16,549.62 1363.66,553.4 1366.15,557.03 1368.65,560.52 1371.15,563.87 1373.65,567.08 1376.15,570.15 1378.65,573.08 1381.15,575.86 1383.65,578.52 1386.14,581.03 1388.64,583.42 1391.14,585.67 1393.64,587.8 1396.14,589.81 1398.64,591.7 1401.14,593.48 1403.64,595.15 1406.13,596.71 1408.63,598.17 1411.13,599.53 1413.63,600.8 1416.13,601.98 1418.63,603.08 1421.13,604.1 1423.63,605.04 1426.12,605.92 1428.62,606.72 1431.12,607.46 1433.62,608.15 1436.12,608.77 1438.62,609.35 1441.12,609.88 1443.62,610.36 1446.12,610.8 1448.61,611.2 1451.11,611.57 1453.61,611.9 1456.11,612.2 1458.61,612.48 1461.11,612.72 1463.61,612.95 1466.11,613.15 1468.6,613.33 1471.1,613.5 1473.6,613.64 1476.1,613.77" fill="none" stroke="#ff4a4a" stroke-width="0.9"/>
<line x1="1075.4" y1="362.6" x2="1476.7" y2="362.6" stroke="#444" stroke-width="1.4"/>
<line x1="1476.1" y1="362.6" x2="1476.1" y2="614.8" stroke="#2a2a2a" stroke-width="1.2"/>
<line x1="1076.3" y1="362.6" x2="1076.3" y2="615.42" stroke="#2c2c2c" stroke-width="1.8"/>
<line x1="1075.4" y1="614.8" x2="1476.7" y2="614.8" stroke="#2c2c2c" stroke-width="1.25"/>
<path d="M1076.3 614.8v3.6M1123.34 614.8v3.6M1170.37 614.8v3.6M1217.41 614.8v3.6M1264.44 614.8v3.6M1311.48 614.8v3.6M1358.51 614.8v3.6M1405.55 614.8v3.6M1452.58 614.8v3.6M1099.82 614.8v2.2M1146.85 614.8v2.2M1193.89 614.8v2.2M1240.92 614.8v2.2M1287.96 614.8v2.2M1334.99 614.8v2.2M1382.03 614.8v2.2M1429.06 614.8v2.2M1476.1 614.8v2.2M1076.3 614.8h-4.6M1076.3 530.73h-4.6M1076.3 446.67h-4.6M1076.3 362.6h-4.6M1076.3 572.77h-2.6M1076.3 488.7h-2.6M1076.3 404.63h-2.6" stroke="#333" stroke-width="1.2" fill="none"/>
<text transform="translate(1076.3,633.9) scale(1.24,1)" text-anchor="middle" font-size="16.0">60</text>
<text transform="translate(1123.34,633.9) scale(1.24,1)" text-anchor="middle" font-size="16.0">80</text>
<text transform="translate(1170.37,633.9) scale(1.24,1)" text-anchor="middle" font-size="16.0">100</text>
<text transform="translate(1217.41,633.9) scale(1.24,1)" text-anchor="middle" font-size="16.0">120</text>
<text transform="translate(1264.44,633.9) scale(1.24,1)" text-anchor="middle" font-size="16.0">140</text>
<text transform="translate(1311.48,633.9) scale(1.24,1)" text-anchor="middle" font-size="16.0">160</text>
<text transform="translate(1358.51,633.9) scale(1.24,1)" text-anchor="middle" font-size="16.0">180</text>
<text transform="translate(1405.55,633.9) scale(1.24,1)" text-anchor="middle" font-size="16.0">200</text>
<text transform="translate(1452.58,633.9) scale(1.24,1)" text-anchor="middle" font-size="16.0">220</text>
<text transform="translate(1069,620.03) scale(1.24,1)" text-anchor="end" font-size="16.0">0</text>
<text transform="translate(1069,535.96) scale(1.24,1)" text-anchor="end" font-size="16.0">5</text>
<text transform="translate(1069,451.89) scale(1.24,1)" text-anchor="end" font-size="16.0">10</text>
<text transform="translate(1069,367.83) scale(1.24,1)" text-anchor="end" font-size="16.0">15</text>
<text x="1201.7" y="663.5" font-size="19.6" textLength="149.1" lengthAdjust="spacingAndGlyphs">Diameter (nm)</text>
<text transform="translate(1039.2,489.4) scale(1.32,1) rotate(-90)" text-anchor="middle" font-size="19.7">Count</text>
<rect x="1336" y="365.2" width="137.9" height="23.3" fill="#fff"/>
<line x1="1336" y1="365.2" x2="1473.9" y2="365.2" stroke="#777" stroke-width="1.3"/>
<line x1="1473.9" y1="365.2" x2="1473.9" y2="388.5" stroke="#999" stroke-width="1.1"/>
<line x1="1336" y1="388.5" x2="1473.9" y2="388.5" stroke="#bbb" stroke-width="1"/>
<line x1="1336" y1="365.2" x2="1336" y2="388.5" stroke="#777" stroke-width="1.3"/>
<rect x="1345.2" y="367.7" width="46.5" height="19.3" fill="url(#h6)" stroke="#ff3a3a" stroke-width="1.0"/>
<text x="1397.5" y="383.9" font-size="19.2" textLength="63.5" lengthAdjust="spacingAndGlyphs">C3P12</text>
</g>
</svg></body></html>
